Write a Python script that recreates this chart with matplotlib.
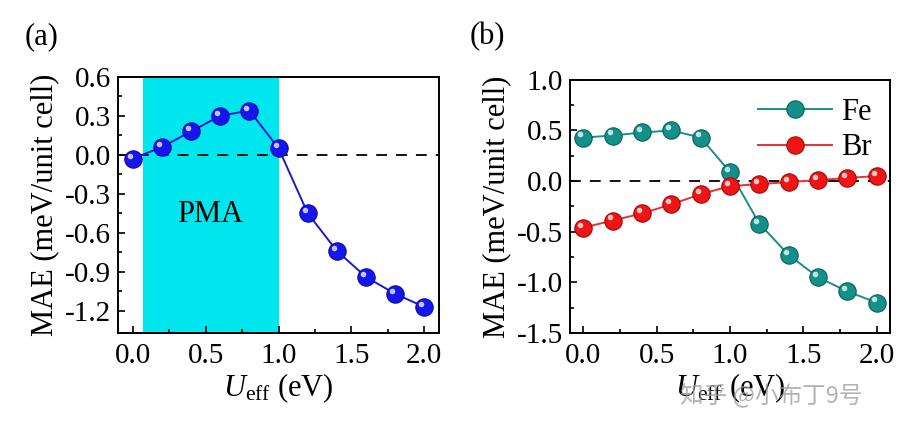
import matplotlib
matplotlib.use('Agg')
import matplotlib.pyplot as plt
import matplotlib.transforms as mtransforms

plt.rcParams['font.family'] = ['Liberation Serif', 'DejaVu Serif']
plt.rcParams['mathtext.fontset'] = 'custom'
plt.rcParams['mathtext.rm'] = 'Liberation Serif'
plt.rcParams['mathtext.it'] = 'Liberation Serif:italic'

# data
u_eff = [0.0, 0.2, 0.4, 0.6, 0.8, 1.0, 1.2, 1.4, 1.6, 1.8, 2.0]
mae_total = [-0.03, 0.06, 0.18, 0.30, 0.34, 0.05, -0.45, -0.74, -0.94, -1.07, -1.17]
mae_fe = [0.43, 0.45, 0.48, 0.50, 0.43, 0.09, -0.42, -0.73, -0.95, -1.09, -1.20]
mae_br = [-0.46, -0.39, -0.32, -0.23, -0.13, -0.05, -0.03, -0.01, 0.01, 0.03, 0.05]
pma_range = [0.07, 1.0]

fig = plt.figure(figsize=(9.24, 4.34), dpi=100)
ax1 = fig.add_axes([0.128, 0.233, 0.347, 0.590])
ax2 = fig.add_axes([0.617, 0.233, 0.346, 0.583])


def sphere_line(ax, x, y, color, line_color, edge, label=None):
    ax.plot(x, y, '-', color=line_color, lw=1.4, zorder=3)
    ax.plot(x, y, 'o', ms=12.5, mfc=color, mec=edge, mew=0.8, zorder=4)
    # highlight to look like a shaded ball
    off = mtransforms.offset_copy(ax.transData, fig=ax.figure, x=-2.2, y=2.2, units='points')
    ax.plot(x, y, 'o', ms=4, mfc='white', mec='none', alpha=0.75, transform=off, zorder=5)
    if label:
        ax.plot([], [], '-o', color=line_color, ms=12.5, mfc=color, mec=edge, mew=0.8, lw=1.4, label=label)


def style(ax):
    for s in ax.spines.values():
        s.set_linewidth(1.4)
    ax.tick_params(which='both', direction='in', labelsize=21, width=1.2)
    ax.tick_params(axis='x', pad=7)
    ax.tick_params(axis='y', pad=5)
    ax.tick_params(which='major', length=5)
    ax.tick_params(which='minor', length=3)
    ax.set_xticks([0.0, 0.5, 1.0, 1.5, 2.0])
    ax.set_xticklabels(['0.0', '0.5', '1.0', '1.5', '2.0'])
    ax.set_xticks([0.25, 0.75, 1.25, 1.75], minor=True)
    ax.set_xlabel(r'$\mathit{U}_{\rm eff}$ (eV)', fontsize=22, labelpad=2)
    ax.set_ylabel('MAE (meV/unit cell)', fontsize=22, labelpad=4)


# panel (a)
ax1.axvspan(pma_range[0], pma_range[1], color='#00e6ef', zorder=0, lw=0)
ax1.axhline(0, color='black', ls=(0, (6, 5)), lw=1.3, zorder=2)
sphere_line(ax1, u_eff, mae_total, '#1515f0', '#1a1acc', '#0a0aa0')
ax1.text(0.53, -0.46, 'PMA', fontsize=22, ha='center', va='center')
ax1.set_xlim(-0.1, 2.1)
ax1.set_ylim(-1.37, 0.6)
yt1 = [0.6, 0.3, 0.0, -0.3, -0.6, -0.9, -1.2]
ax1.set_yticks(yt1)
ax1.set_yticklabels(['%.1f' % v for v in yt1])
ax1.set_yticks([0.45, 0.15, -0.15, -0.45, -0.75, -1.05], minor=True)
style(ax1)

# panel (b)
ax2.axhline(0, color='black', ls=(0, (6, 5)), lw=1.3, zorder=2)
sphere_line(ax2, u_eff, mae_fe, '#139089', '#1a8f8a', '#0b5f5a', label='Fe')
sphere_line(ax2, u_eff, mae_br, '#f01515', '#e83030', '#a00808', label='Br')
ax2.set_xlim(-0.09, 2.09)
ax2.set_ylim(-1.5, 1.0)
yt2 = [1.0, 0.5, 0.0, -0.5, -1.0, -1.5]
ax2.set_yticks(yt2)
ax2.set_yticklabels(['%.1f' % v for v in yt2])
ax2.set_yticks([0.75, 0.25, -0.25, -0.75, -1.25], minor=True)
style(ax2)
ax2.legend(loc='upper right', frameon=False, fontsize=22, handlelength=2.4,
           handletextpad=0.3, labelspacing=0.2, borderaxespad=0.2)

fig.text(0.027, 0.915, '(a)', fontsize=22, va='center')
fig.text(0.508, 0.915, '(b)', fontsize=22, va='center')

# watermark
fig.text(0.835, 0.09, '知乎 @小布丁9号', fontsize=17, color='#9a9a9a', alpha=0.75,
         ha='center', va='center', family=['Noto Sans CJK SC', 'DejaVu Sans'])

fig.savefig('out.png', dpi=100)
